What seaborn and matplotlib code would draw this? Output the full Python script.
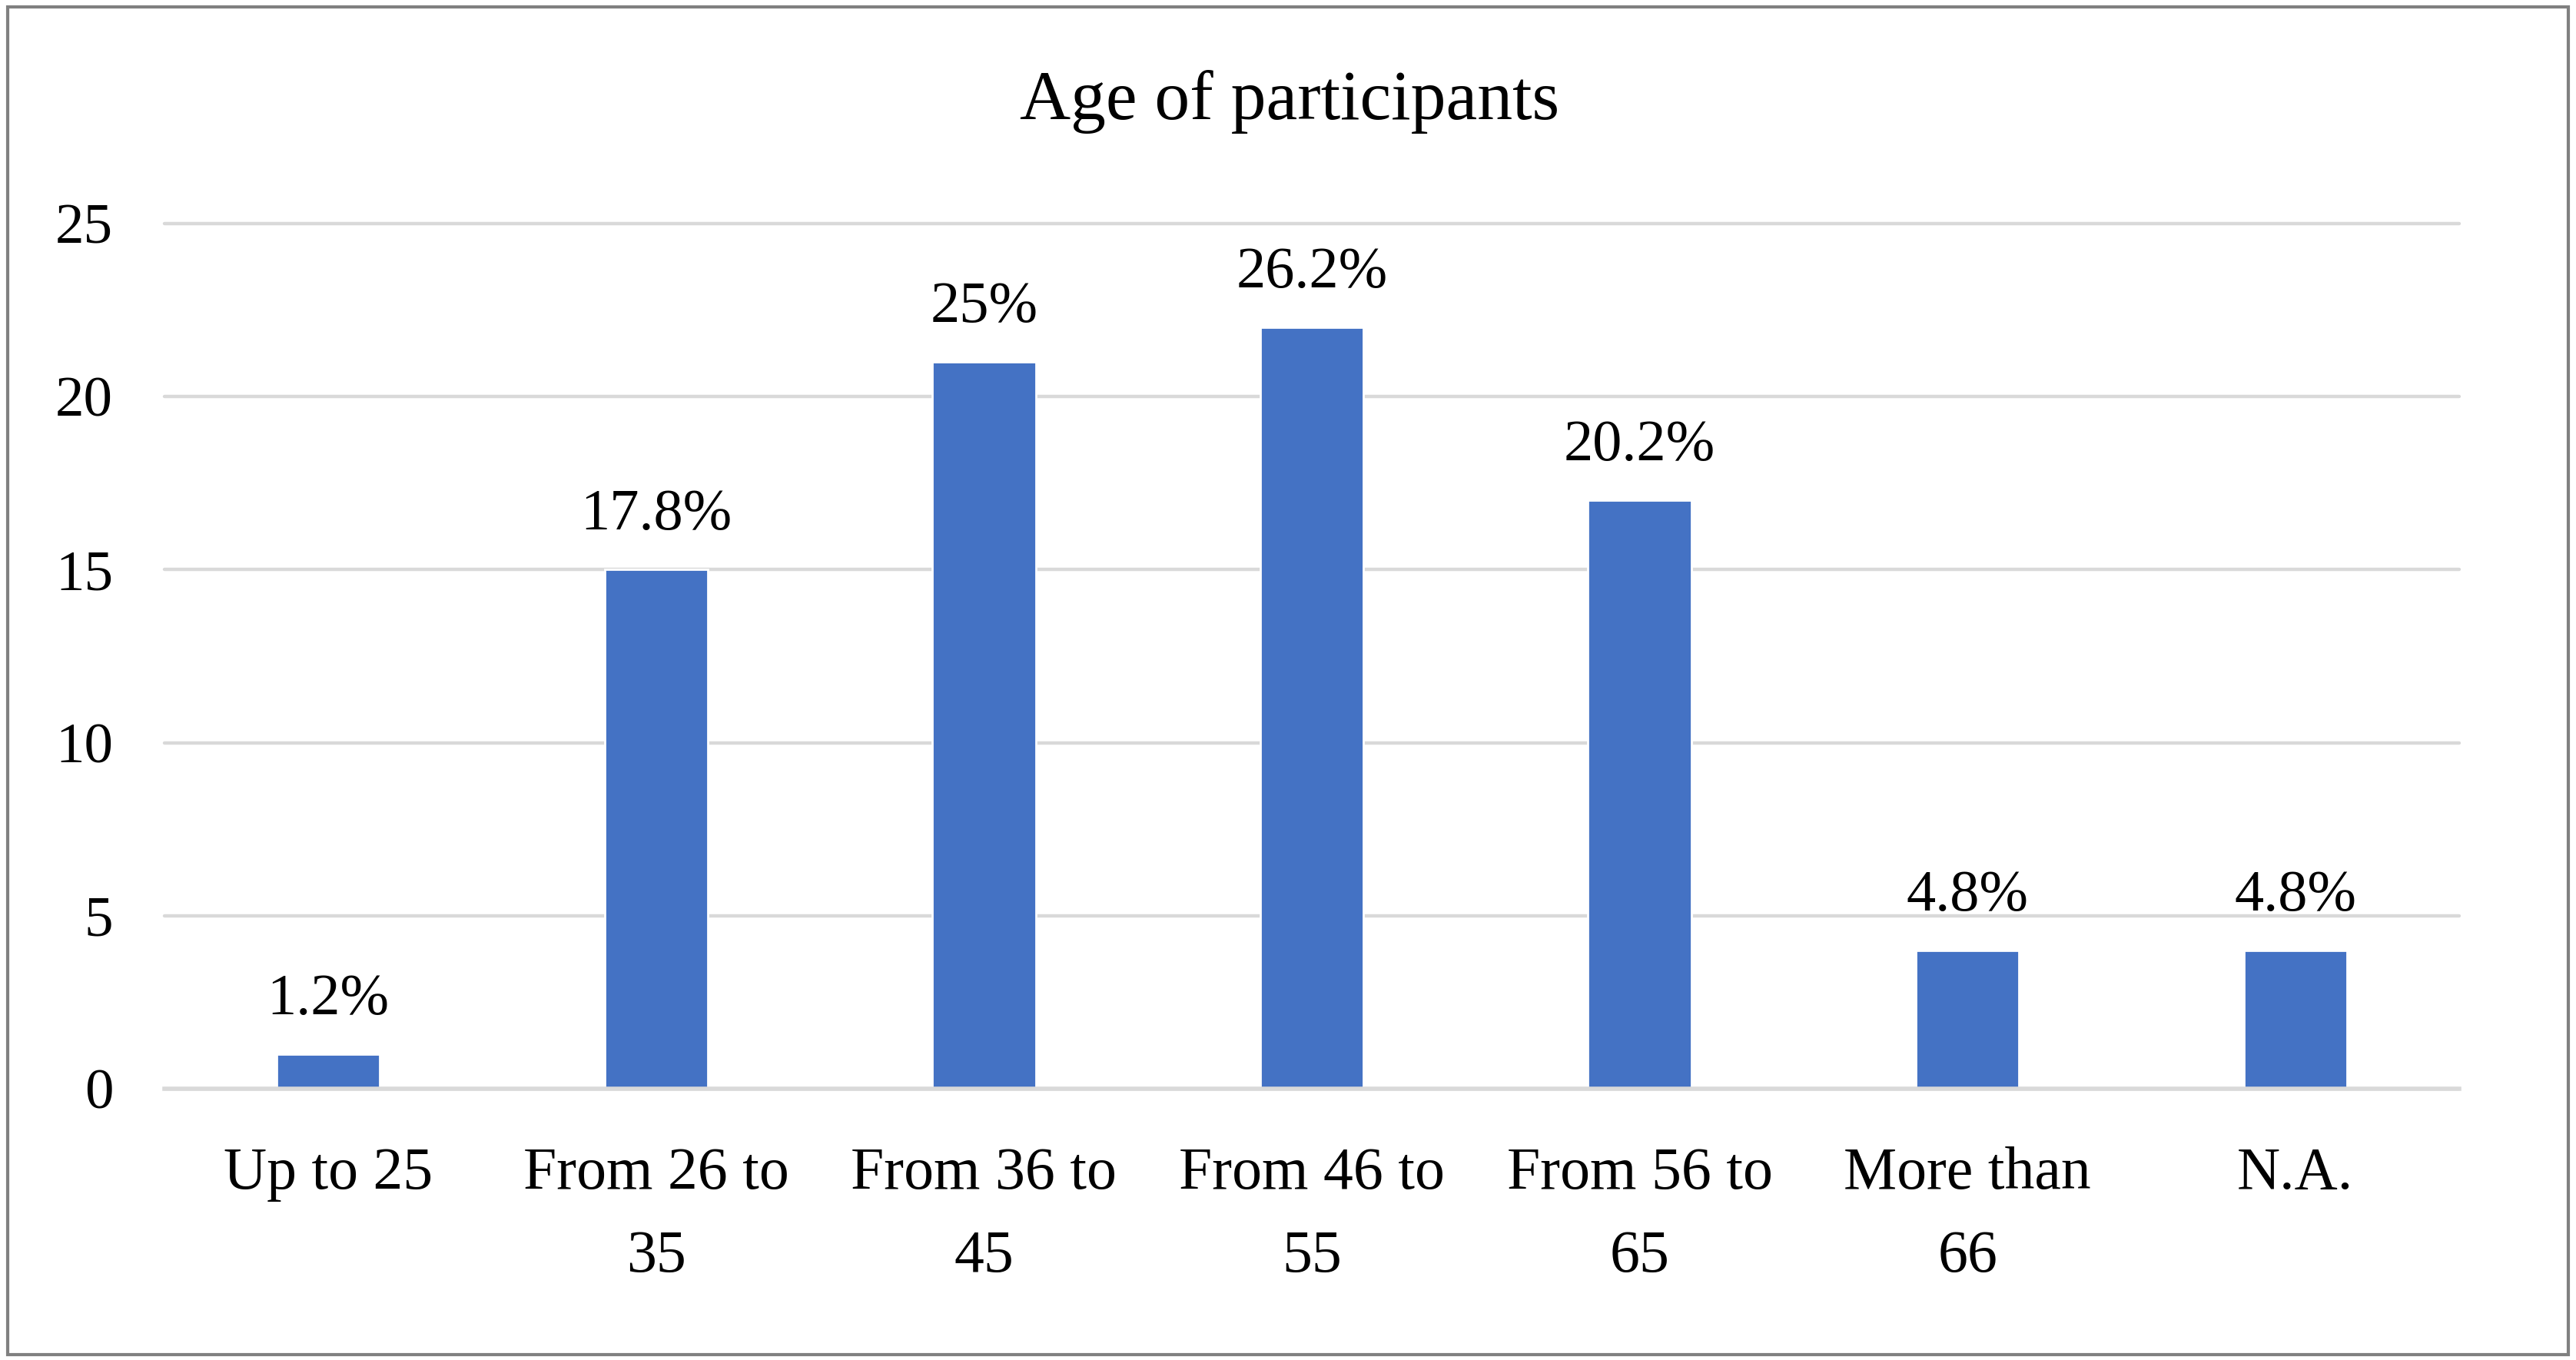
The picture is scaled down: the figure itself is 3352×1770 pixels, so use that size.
import matplotlib
matplotlib.use("Agg")
import matplotlib.pyplot as plt
import seaborn as sns
from matplotlib.patches import Rectangle

# data
categories = ["Up to 25", "From 26 to 35", "From 36 to 45", "From 46 to 55",
              "From 56 to 65", "More than 66", "N.A."]
tick_labels = ["Up to 25", "From 26 to\n35", "From 36 to\n45", "From 46 to\n55",
               "From 56 to\n65", "More than\n66", "N.A."]
counts = [1, 15, 21, 22, 17, 4, 4]
percent_labels = ["1.2%", "17.8%", "25%", "26.2%", "20.2%", "4.8%", "4.8%"]

sns.set_theme(style="white")
plt.rcParams["font.family"] = ["Liberation Serif", "DejaVu Serif"]
plt.rcParams["text.color"] = "black"

fig = plt.figure(figsize=(16.76, 8.85), dpi=200)
ax = fig.add_axes([0.0638, 0.1994, 0.8909, 0.6362])

sns.barplot(x=categories, y=counts, color="#4472C4", saturation=1,
            width=0.315, ax=ax)

ax.set_ylim(0, 25)
ax.set_xlim(-0.5, 6.5)
ax.set_yticks([0, 5, 10, 15, 20, 25])
ax.set_xticks(range(len(categories)))
ax.set_xticklabels(tick_labels, linespacing=1.68)
ax.tick_params(axis="y", labelsize=27, pad=24, length=0, labelcolor="black")
ax.tick_params(axis="x", labelsize=28, pad=27, length=0, labelcolor="black")
ax.set_xlabel("")
ax.set_ylabel("")

ax.yaxis.grid(True, color="#d9d9d9", linewidth=1.6)
ax.set_axisbelow(True)
for line in ax.get_ygridlines():
    line.set_clip_on(False)
for s in ["left", "right", "top"]:
    ax.spines[s].set_visible(False)
ax.spines["bottom"].set_color("#d9d9d9")
ax.spines["bottom"].set_linewidth(2.0)

ax.bar_label(ax.containers[0], labels=percent_labels, fontsize=27.5,
             padding=13, color="black")

fig.text(0.5006, 0.925, "Age of participants", fontsize=33,
         ha="center", va="center", color="black")

fig.patches.append(Rectangle((0.003, 0.004), 0.994, 0.991, transform=fig.transFigure,
                             fill=False, edgecolor="#808080", linewidth=1.5))

fig.savefig("out.png", dpi=200, facecolor="white")
